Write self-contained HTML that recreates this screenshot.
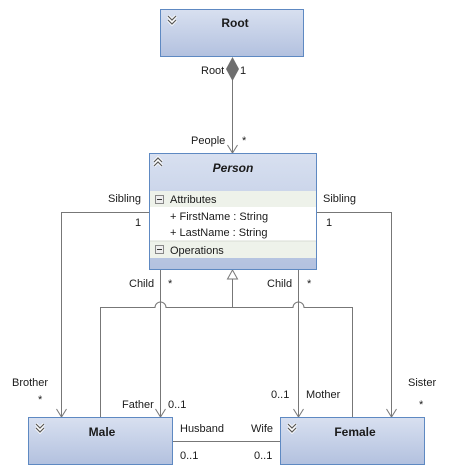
<!DOCTYPE html>
<html><head><meta charset="utf-8"><style>
html,body{margin:0;padding:0;background:#fff;width:455px;height:472px;overflow:hidden}
svg{display:block}
text{font-family:"Liberation Sans",sans-serif;font-size:11px;fill:#1a1a1a}
.b{font-weight:bold;font-size:12px}
</style></head><body>
<svg width="455" height="472" viewBox="0 0 455 472" xmlns="http://www.w3.org/2000/svg">
<defs>
<linearGradient id="g" x1="0" y1="0" x2="0" y2="1">
<stop offset="0" stop-color="#d8e0f0"/><stop offset="1" stop-color="#b3c1df"/>
</linearGradient>
<g id="chev"><path d="M-4,-3 L0,1 L4,-3 M-4,1 L0,5 L4,1" fill="none" stroke="#fff" stroke-width="3"/><path d="M-4,-3 L0,1 L4,-3 M-4,1 L0,5 L4,1" fill="none" stroke="#555" stroke-width="1.2"/></g>
</defs>
<g stroke="#777" stroke-width="1" fill="none">
<!-- root composition -->
<line x1="232.5" y1="80" x2="232.5" y2="153"/>
<path d="M227.5,145 L232.5,153 L237.5,145"/>
<!-- siblings -->
<path d="M149,212.5 H61.5 V417"/>
<path d="M56.5,409 L61.5,417 L66.5,409"/>
<path d="M317,212.5 H391.5 V417"/>
<path d="M386.5,409 L391.5,417 L396.5,409"/>
<!-- generalization -->
<path d="M232.5,279 V307.5"/>
<path d="M100.5,417 V307.5 H155 A5.5,5.5 0 0 1 166,307.5 H293 A5.5,5.5 0 0 1 304,307.5 H352.5 V417"/>
<path d="M227.5,279 L232.5,270 L237.5,279 Z" fill="#fff"/>
<!-- child -->
<line x1="160.5" y1="270" x2="160.5" y2="417"/>
<path d="M155.5,409 L160.5,417 L165.5,409"/>
<line x1="298.5" y1="270" x2="298.5" y2="417"/>
<path d="M293.5,409 L298.5,417 L303.5,409"/>
<!-- husband wife -->
<line x1="172" y1="441.5" x2="280" y2="441.5"/>
</g>
<!-- Root -->
<rect x="160.5" y="9.5" width="143" height="47" fill="url(#g)" stroke="#5e89c2"/>
<use href="#chev" x="172" y="19"/>
<text x="235" y="27" class="b" text-anchor="middle">Root</text>
<path d="M232.5,57 L239,69 L232.5,81 L226,69 Z" fill="#6e6e6e"/>
<!-- Person -->
<rect x="149.5" y="153.5" width="167" height="116" fill="url(#g)" stroke="#5e89c2"/>
<rect x="150" y="191" width="166" height="16" fill="#eef2ea"/>
<rect x="150" y="207" width="166" height="34" fill="#fff"/>
<rect x="150" y="241" width="166" height="17" fill="#eef2ea"/>
<line x1="150" y1="241" x2="316" y2="241" stroke="#d8dcd4"/>
<g transform="translate(158,162) rotate(180)"><use href="#chev" x="0" y="-1"/></g>
<text x="233" y="172" class="b" text-anchor="middle" font-style="italic">Person</text>
<rect x="155.5" y="195.5" width="8" height="8" fill="#eee" stroke="#888"/><line x1="157" y1="199.5" x2="162" y2="199.5" stroke="#333"/>
<text x="170" y="203">Attributes</text>
<text x="170" y="220">+ FirstName : String</text>
<text x="170" y="236">+ LastName : String</text>
<rect x="155.5" y="245.5" width="8" height="8" fill="#eee" stroke="#888"/><line x1="157" y1="249.5" x2="162" y2="249.5" stroke="#333"/>
<text x="170" y="254">Operations</text>
<!-- Male / Female -->
<rect x="28.5" y="417.5" width="144" height="47" fill="url(#g)" stroke="#5e89c2"/>
<use href="#chev" x="40" y="427"/>
<text x="102" y="436" class="b" text-anchor="middle">Male</text>
<rect x="280.5" y="417.5" width="144" height="47" fill="url(#g)" stroke="#5e89c2"/>
<use href="#chev" x="292" y="427"/>
<text x="355" y="436" class="b" text-anchor="middle">Female</text>
<!-- labels -->
<text x="201" y="74">Root</text><text x="240" y="74">1</text>
<text x="191" y="144">People</text><text x="242" y="144">*</text>
<text x="108" y="202">Sibling</text><text x="135" y="226">1</text>
<text x="323" y="202">Sibling</text><text x="326" y="226">1</text>
<text x="129" y="287">Child</text><text x="168" y="287">*</text>
<text x="267" y="287">Child</text><text x="307" y="287">*</text>
<text x="12" y="386">Brother</text><text x="38" y="403">*</text>
<text x="122" y="408">Father</text><text x="168" y="408">0..1</text>
<text x="271" y="398">0..1</text><text x="306" y="398">Mother</text>
<text x="408" y="386">Sister</text><text x="419" y="408">*</text>
<text x="180" y="432">Husband</text><text x="251" y="432">Wife</text>
<text x="180" y="459">0..1</text><text x="254" y="459">0..1</text>
</svg>
</body></html>
